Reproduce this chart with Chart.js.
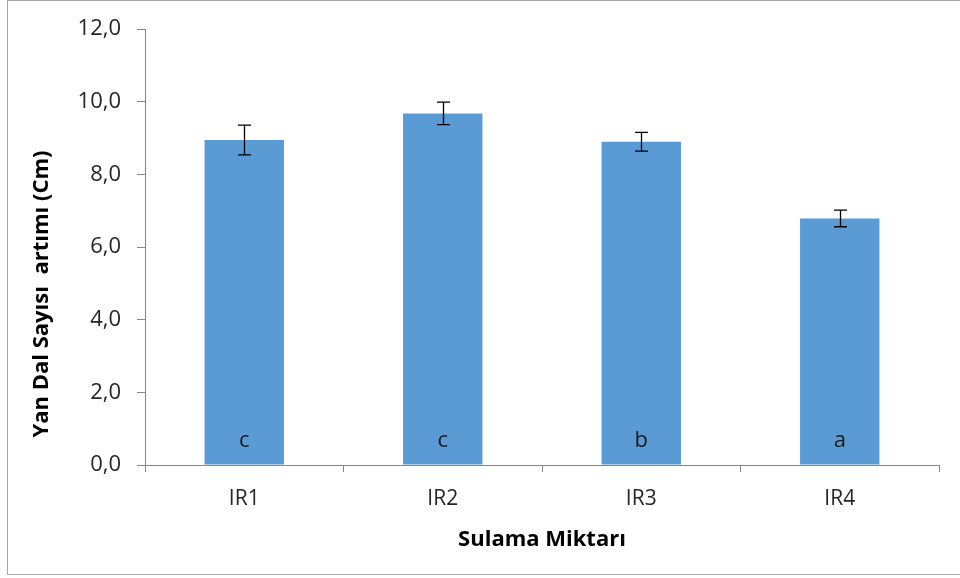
<!DOCTYPE html>
<html>
<head>
<meta charset="utf-8">
<script src="https://cdn.jsdelivr.net/npm/chart.js@4.4.1/dist/chart.umd.min.js"></script>
<style>
  html, body { margin: 0; padding: 0; background: #fff; }
  #wrap { position: relative; width: 960px; height: 578px; }
  #frame { position: absolute; left: 7px; top: 0; width: 960px; height: 575px; border: 1px solid #a6a6a6; box-sizing: border-box; pointer-events: none; }
  canvas { position: absolute; left: 0; top: 0; }
</style>
</head>
<body>
<div id="wrap">
  <canvas id="chart" width="960" height="578"></canvas>
  <div id="frame"></div>
</div>
<script>
// Irrigation levels and mean side-branch values with standard errors
const categories = ['IR1', 'IR2', 'IR3', 'IR4'];
const means = [8.95, 9.68, 8.90, 6.79];
const errors = [0.41, 0.31, 0.26, 0.23];
const groupLetters = ['c', 'c', 'b', 'a'];
const yTicks = [0, 2, 4, 6, 8, 10, 12];
const yTitle = 'Yan Dal Sayısı  artımı (Cm)';
const xTitle = 'Sulama Miktarı';

const axisColor = '#868686';
const fontFamily = '"Open Sans", "Liberation Sans", sans-serif';

// Error bars with caps, drawn from the value scale
const errorBarPlugin = {
  id: 'errorBars',
  afterDatasetsDraw(chart) {
    const ctx = chart.ctx;
    const yScale = chart.scales.y;
    const meta = chart.getDatasetMeta(0);
    ctx.save();
    ctx.strokeStyle = '#000';
    ctx.lineWidth = 1.3;
    meta.data.forEach((bar, i) => {
      const x = Math.round(bar.x) + 0.5;
      const yTop = yScale.getPixelForValue(means[i] + errors[i]);
      const yBot = yScale.getPixelForValue(means[i] - errors[i]);
      const cap = 6.5;
      ctx.beginPath();
      ctx.moveTo(x, yTop); ctx.lineTo(x, yBot);
      ctx.moveTo(x - cap, yTop); ctx.lineTo(x + cap, yTop);
      ctx.moveTo(x - cap, yBot); ctx.lineTo(x + cap, yBot);
      ctx.stroke();
    });
    ctx.restore();
  }
};

// Significance letters near the foot of each bar, plus the rotated value-axis title
const annotationPlugin = {
  id: 'annotations',
  afterDatasetsDraw(chart) {
    const ctx = chart.ctx;
    const meta = chart.getDatasetMeta(0);
    ctx.save();
    ctx.fillStyle = '#1a1a1a';
    ctx.font = '22px ' + fontFamily;
    ctx.textAlign = 'center';
    ctx.textBaseline = 'middle';
    meta.data.forEach((bar, i) => {
      ctx.fillText(groupLetters[i], bar.x, bar.base - 24);
    });
    ctx.restore();

    const area = chart.chartArea;
    ctx.save();
    ctx.translate(42, area.bottom - 171);
    ctx.rotate(-Math.PI / 2);
    ctx.fillStyle = '#000';
    ctx.font = 'bold 22px ' + fontFamily;
    ctx.textAlign = 'center';
    ctx.textBaseline = 'middle';
    ctx.fillText(yTitle, 0, 0);
    ctx.restore();
  }
};

new Chart(document.getElementById('chart'), {
  type: 'bar',
  data: {
    labels: categories,
    datasets: [{
      data: means,
      backgroundColor: '#5B9BD5',
      borderWidth: 0,
      barPercentage: 0.4,
      categoryPercentage: 1.0
    }]
  },
  options: {
    responsive: false,
    animation: false,
    devicePixelRatio: 1,
    layout: { padding: { left: 0, right: 21, top: 29, bottom: 0 } },
    plugins: {
      legend: { display: false },
      tooltip: { enabled: false }
    },
    scales: {
      x: {
        grid: {
          display: true,
          drawOnChartArea: false,
          drawTicks: true,
          tickLength: 7,
          offset: true,
          color: axisColor
        },
        border: { display: true, color: axisColor, width: 1 },
        ticks: {
          color: '#262626',
          font: { family: fontFamily, size: 21 },
          padding: 14
        },
        title: {
          display: true,
          text: xTitle,
          color: '#000',
          font: { family: fontFamily, size: 22, weight: 'bold' },
          padding: { top: 0, bottom: 25 }
        },
        afterFit(scale) { scale.height = 113; }
      },
      y: {
        min: 0,
        max: 12,
        afterBuildTicks(scale) { scale.ticks = yTicks.map(v => ({ value: v })); },
        grid: {
          display: true,
          drawOnChartArea: false,
          drawTicks: true,
          tickLength: 8,
          color: axisColor
        },
        border: { display: true, color: axisColor, width: 1 },
        ticks: {
          color: '#262626',
          font: { family: fontFamily, size: 22 },
          padding: 16,
          callback: v => v.toFixed(1).replace('.', ',')
        },
        afterFit(scale) { scale.width = 145; }
      }
    }
  },
  plugins: [errorBarPlugin, annotationPlugin]
});
</script>
</body>
</html>
